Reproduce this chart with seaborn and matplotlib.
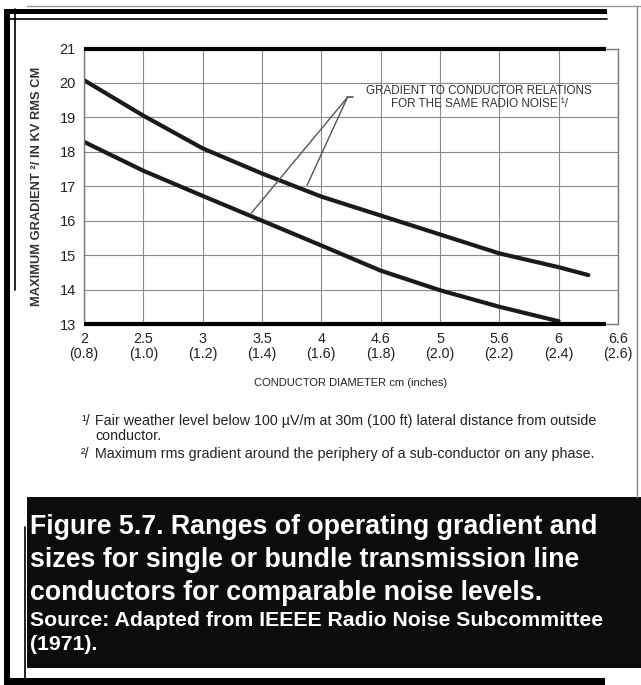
import numpy as np
import pandas as pd
import seaborn as sns
import matplotlib.pyplot as plt
from matplotlib.patches import Rectangle
from matplotlib.lines import Line2D

# values
upper_x = [2.0, 2.5, 3.0, 3.5, 4.0, 4.5, 5.0, 5.5, 6.0, 6.25]
upper_y = [20.08, 19.05, 18.1, 17.37, 16.7, 16.15, 15.6, 15.05, 14.65, 14.42]
lower_x = [2.0, 2.5, 3.0, 3.5, 4.0, 4.5, 5.0, 5.5, 6.0]
lower_y = [18.29, 17.45, 16.72, 16.0, 15.28, 14.55, 13.98, 13.5, 13.08]

tick_pos = [2.0, 2.5, 3.0, 3.5, 4.0, 4.5, 5.0, 5.5, 6.0, 6.5]
tick_cm = ['2', '2.5', '3', '3.5', '4', '4.6', '5', '5.6', '6', '6.6']
tick_in = ['(0.8)', '(1.0)', '(1.2)', '(1.4)', '(1.6)', '(1.8)', '(2.0)', '(2.2)', '(2.4)', '(2.6)']
y_ticks = [13, 14, 15, 16, 17, 18, 19, 20, 21]

# annotation: label point and the two ends on the curves
ann_xy = (4.27, 19.58)
ann_elbow = (4.22, 19.58)
ann_ends = [(3.41, 16.22), (3.88, 17.03)]

df = pd.concat([
    pd.DataFrame({'d': upper_x, 'g': upper_y, 'curve': 'upper'}),
    pd.DataFrame({'d': lower_x, 'g': lower_y, 'curve': 'lower'}),
])

sns.set_style('white')
plt.rcParams['font.family'] = ['Liberation Sans', 'DejaVu Sans']

fig = plt.figure(figsize=(6.41, 6.85), dpi=100)
ax = fig.add_axes([84 / 641, 1 - 324 / 685, 534 / 641, 275.5 / 685])

sns.lineplot(data=df, x='d', y='g', units='curve', estimator=None, sort=False,
             color='#1a1a1a', linewidth=3.0, ax=ax, legend=False)

ax.set_xlim(2, 6.5)
ax.set_ylim(13, 21)
ax.set_xticks(tick_pos)
ax.set_xticklabels([f'{a}\n{b}' for a, b in zip(tick_cm, tick_in)],
                   fontsize=10.3, color='#222', linespacing=1.05)
ax.set_yticks(y_ticks)
ax.set_yticklabels([str(v) for v in y_ticks], fontsize=10.5, color='#222')
ax.tick_params(axis='both', length=0, pad=6)
ax.grid(True, color='#8a8a8a', linewidth=0.8)
for s in ax.spines.values():
    s.set_color('#777')
    s.set_linewidth(1.0)
ax.spines['top'].set_visible(False)
ax.spines['bottom'].set_visible(False)
# heavy top/bottom rule of the chart frame, thin at the right end
for yy in (0, 1):
    ax.plot([0, 0.978], [yy, yy], transform=ax.transAxes, color='black', lw=3.0,
            clip_on=False, solid_capstyle='butt', zorder=5)
    ax.plot([0.978, 1], [yy, yy], transform=ax.transAxes, color='#777', lw=1.0,
            clip_on=False, zorder=5)

ax.set_xlabel('CONDUCTOR DIAMETER cm (inches)', fontsize=8, color='#222', labelpad=12)
ax.set_ylabel('MAXIMUM GRADIENT ²/ IN KV RMS CM', fontsize=9.3, color='#333',
              fontweight='bold', labelpad=12)

# annotation leader lines
for ex, ey in ann_ends:
    ax.plot([ann_elbow[0], ex], [ann_elbow[1], ey], color='#555', lw=1.0)
ax.plot([ann_elbow[0], ann_xy[0]], [ann_elbow[1], ann_xy[1]], color='#555', lw=1.2)
ax.text(5.33, 19.78, 'GRADIENT TO CONDUCTOR RELATIONS', ha='center', va='center',
        fontsize=8.4, color='#333')
ax.text(5.33, 19.4, 'FOR THE SAME RADIO NOISE ¹/', ha='center', va='center',
        fontsize=8.4, color='#333')

# footnotes
fn = dict(fontsize=10.3, color='#222', va='center')
fig.text(81 / 641, 1 - 421 / 685, '¹/', **fn)
fig.text(95 / 641, 1 - 421 / 685,
         'Fair weather level below 100 µV/m at 30m (100 ft) lateral distance from outside', **fn)
fig.text(95 / 641, 1 - 436 / 685, 'conductor.', **fn)
fig.text(81 / 641, 1 - 454 / 685, '²/', **fn)
fig.text(95 / 641, 1 - 454 / 685,
         'Maximum rms gradient around the periphery of a sub-conductor on any phase.', **fn)

# page frame bits from the scan
def px_rect(x0, y0, x1, y1, c):
    fig.add_artist(Rectangle((x0 / 641, 1 - y1 / 685), (x1 - x0) / 641, (y1 - y0) / 685,
                             transform=fig.transFigure, color=c, lw=0))

def px_line(x0, y0, x1, y1, c, lw):
    fig.add_artist(Line2D([x0 / 641, x1 / 641], [1 - y0 / 685, 1 - y1 / 685],
                          transform=fig.transFigure, color=c, lw=lw))

px_line(27, 6, 641, 6, '#999', 1.0)
px_rect(9, 9, 607, 14, 'black')
px_line(9, 18.5, 607, 18.5, 'black', 1.2)
px_rect(4, 9, 10, 685, 'black')
px_line(15, 9, 15, 290, 'black', 1.2)
px_line(637, 6, 637, 497, '#888', 1.0)

# caption box
px_rect(27, 497, 641, 668, '#0c0c0c')
px_line(25, 527, 25, 685, 'black', 1.2)
px_rect(4, 678, 605, 685, 'black')

cap = dict(color='white', fontweight='bold', va='center', ha='left')
fig.text(30 / 641, 1 - 527 / 685, 'Figure 5.7. Ranges of operating gradient and', fontsize=19.3, **cap)
fig.text(30 / 641, 1 - 560 / 685, 'sizes for single or bundle transmission line', fontsize=19.3, **cap)
fig.text(30 / 641, 1 - 593 / 685, 'conductors for comparable noise levels.', fontsize=19.3, **cap)
fig.text(30 / 641, 1 - 620 / 685, 'Source: Adapted from IEEEE Radio Noise Subcommittee', fontsize=15.3, **cap)
fig.text(30 / 641, 1 - 645 / 685, '(1971).', fontsize=15.3, **cap)

fig.savefig('out.png', dpi=100)
